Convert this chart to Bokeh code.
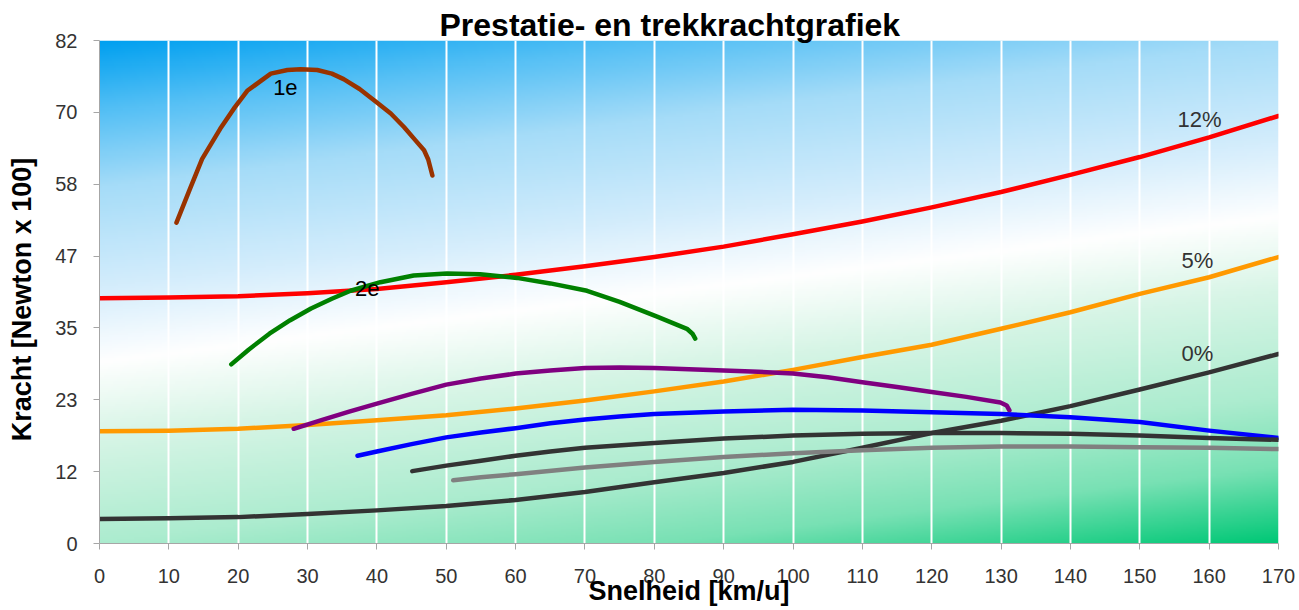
import numpy as np
from bokeh.plotting import figure
from bokeh.models import Range1d, FixedTicker, ColumnDataSource, LabelSet
from bokeh.core.properties import value
from bokeh.embed import file_html
from bokeh.resources import INLINE

# ---------------- data ----------------
x_ticks = [0, 10, 20, 30, 40, 50, 60, 70, 80, 90, 100, 110, 120, 130, 140, 150, 160, 170]
y_tick_values = [0, 11.714, 23.429, 35.143, 46.857, 58.571, 70.286, 82]
y_tick_labels = ["0", "12", "23", "35", "47", "58", "70", "82"]

speed_grid = [0, 10, 20, 30, 40, 50, 60, 70, 80, 90, 100, 110, 120, 130, 140, 150, 160, 170]
res_12 = [40.0, 40.1, 40.3, 40.8, 41.5, 42.6, 43.8, 45.2, 46.7, 48.4, 50.4, 52.5, 54.8, 57.3, 60.1, 63.0, 66.2, 69.7]
res_5 = [18.3, 18.4, 18.7, 19.3, 20.1, 20.9, 22.0, 23.3, 24.8, 26.4, 28.3, 30.4, 32.4, 35.0, 37.7, 40.7, 43.4, 46.7]
res_0 = [4.0, 4.1, 4.3, 4.8, 5.4, 6.1, 7.1, 8.4, 10.0, 11.5, 13.3, 15.6, 18.0, 20.0, 22.4, 25.1, 27.9, 30.9]

g1_x = [11.1, 13.0, 14.8, 17.4, 19.5, 21.3, 24.7, 27.1, 29.0, 31.4, 33.5, 35.2, 37.5, 40.0, 42.0, 43.9, 45.5, 46.8, 47.4, 48.0]
g1_y = [52.3, 57.7, 62.7, 67.6, 71.1, 73.8, 76.6, 77.2, 77.3, 77.2, 76.6, 75.7, 74.1, 71.9, 70.1, 67.9, 65.8, 64.1, 62.6, 60.0]

g2_x = [19.0, 21.5, 24.5, 27.5, 30.5, 33.5, 36.2, 40.5, 45.3, 50.1, 54.9, 60.2, 65.0, 70.3, 75.0, 80.4, 84.7, 85.5, 85.9]
g2_y = [29.2, 31.6, 34.2, 36.4, 38.3, 39.9, 41.2, 42.6, 43.7, 44.0, 43.9, 43.3, 42.4, 41.2, 39.4, 37.0, 35.0, 34.2, 33.4]

g3_x = [28.0, 32, 36, 40, 45, 50, 55, 60, 65, 70, 75, 80, 85, 90, 95, 100, 105, 110, 115, 120, 125, 129.9, 130.8, 131.2]
g3_y = [18.7, 20.1, 21.5, 22.8, 24.4, 25.9, 26.9, 27.7, 28.2, 28.6, 28.7, 28.6, 28.4, 28.2, 28.0, 27.7, 27.1, 26.3, 25.5, 24.7, 23.9, 23.0, 22.5, 21.7]

g4_x = [37.2, 40, 45, 50, 55, 60, 65, 70, 75, 80, 90, 100, 110, 120, 130, 140, 150, 160, 170]
g4_y = [14.3, 15.0, 16.2, 17.3, 18.1, 18.8, 19.6, 20.2, 20.7, 21.1, 21.5, 21.8, 21.7, 21.4, 21.1, 20.6, 19.8, 18.4, 17.2]

g5_x = [45.1, 50, 55, 60, 65, 70, 80, 90, 100, 110, 120, 130, 140, 150, 160, 170]
g5_y = [11.8, 12.7, 13.5, 14.3, 15.0, 15.6, 16.4, 17.1, 17.6, 17.9, 18.0, 18.0, 17.9, 17.6, 17.2, 16.9]

g6_x = [51.0, 55, 60, 70, 80, 90, 100, 110, 120, 130, 140, 150, 160, 170]
g6_y = [10.3, 10.8, 11.3, 12.4, 13.3, 14.1, 14.7, 15.2, 15.6, 15.8, 15.8, 15.7, 15.6, 15.4]

label_text = ["1e", "2e", "12%", "5%", "0%"]
label_x = [26.8, 38.6, 158.6, 158.3, 158.3]
label_y = [74.3, 41.6, 69.1, 46.1, 31.0]
label_color = ["#000000", "#000000", "#333333", "#333333", "#333333"]

# ---------------- figure ----------------
FONT = "Liberation Sans"
p = figure(width=1299, height=610, x_range=Range1d(0, 170), y_range=Range1d(0, 82),
           output_backend="svg", toolbar_location=None,
           min_border_left=99, min_border_right=21, min_border_top=40, min_border_bottom=67)
p.outline_line_color = None
p.background_fill_color = "white"
p.border_fill_color = "white"

# background gradient (style only)
nx, ny = 510, 246
U, V = np.meshgrid(np.linspace(0, 1, nx), np.linspace(0, 1, ny))
d = V - (0.36 + 0.29 * U)
blue_s = [0, 0.15, 0.35, 0.5, 0.64]
blue_c = [(255, 255, 255), (212, 237, 252), (165, 220, 248), (85, 192, 245), (0, 160, 240)]
green_s = [0, 0.15, 0.36, 0.5, 0.65]
green_c = [(255, 255, 255), (215, 245, 230), (172, 236, 207), (120, 225, 180), (0, 200, 118)]
img = np.zeros((ny, nx, 4), dtype=np.uint8)
for ch in range(3):
    b = np.interp(np.clip(d, 0, None), blue_s, [c[ch] for c in blue_c])
    g = np.interp(np.clip(-d, 0, None), green_s, [c[ch] for c in green_c])
    img[:, :, ch] = np.where(d >= 0, b, g).astype(np.uint8)
img[:, :, 3] = 255
img32 = img.view(dtype=np.uint32).reshape((ny, nx))
bg = p.image_rgba(image=[img32], x=p.x_range.start, y=p.y_range.start,
                  dw=p.x_range.end - p.x_range.start, dh=p.y_range.end - p.y_range.start)
bg.level = "image"

# grid
p.xgrid.ticker = FixedTicker(ticks=x_ticks)
p.xgrid.grid_line_color = "white"
p.xgrid.grid_line_width = 2
p.ygrid.grid_line_color = None

# axes
for ax in (p.xaxis, p.yaxis):
    ax.axis_line_color = "#a6a6a6"
    ax.major_tick_line_color = "#a6a6a6"
    ax.major_tick_out = 6
    ax.major_tick_in = 0
    ax.minor_tick_line_color = None
    ax.major_label_text_font = FONT
    ax.major_label_text_font_size = "20px"
    ax.major_label_text_color = "#333333"
    ax.axis_label_text_font = FONT
    ax.axis_label_text_font_size = "27px"
    ax.axis_label_text_font_style = "bold"
    ax.axis_label_text_color = "black"

p.xaxis.ticker = FixedTicker(ticks=x_ticks)
p.xaxis.axis_label = "Snelheid [km/u]"
p.xaxis.major_label_standoff = 19
p.xaxis.axis_label_standoff = -10

p.yaxis.ticker = FixedTicker(ticks=y_tick_values)
p.yaxis.major_label_overrides = {v: t for v, t in zip(y_tick_values, y_tick_labels)}
p.yaxis.axis_label = "Kracht   [Newton x 100]"
p.yaxis.major_label_standoff = 16
p.yaxis.axis_label_standoff = 15

# title
p.title.text = "Prestatie- en trekkrachtgrafiek"
p.title.text_font = FONT
p.title.text_font_size = "32px"
p.title.text_font_style = "bold"
p.title.text_color = "black"
p.title.align = "left"
p.title.offset = 340
p.title.standoff = -5

# curves
lw = 4.5
def curve(xs, ys, color):
    p.line(xs, ys, line_color=color, line_width=lw, line_cap="round", line_join="round")

curve(speed_grid, res_12, "#ff0000")
curve(speed_grid, res_5, "#ff9900")
curve(speed_grid, res_0, "#333333")
curve(g1_x, g1_y, "#993300")
curve(g2_x, g2_y, "#008000")
curve(g3_x, g3_y, "#800080")
curve(g4_x, g4_y, "#0000ff")
curve(g5_x, g5_y, "#333333")
curve(g6_x, g6_y, "#808080")

src = ColumnDataSource(dict(x=label_x, y=label_y, t=label_text, c=label_color))
p.add_layout(LabelSet(x="x", y="y", text="t", source=src, text_color="c",
                      text_font=value(FONT), text_font_size="22px",
                      text_align="center", text_baseline="middle"))

open("out.html", "w").write(file_html(p, INLINE))
